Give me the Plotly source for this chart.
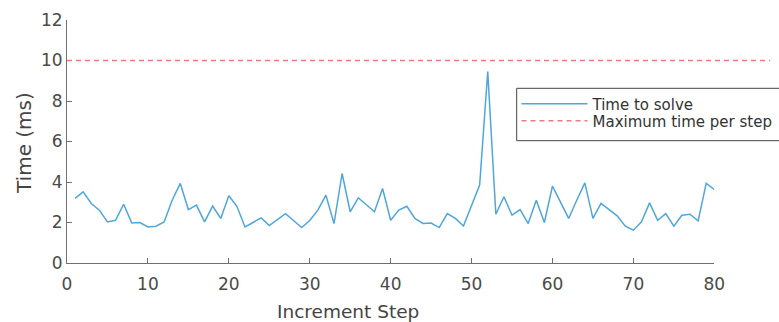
import plotly.graph_objects as go

# ---- data ----
steps = list(range(1, 81))
time_to_solve = [
    3.19, 3.51, 2.94, 2.61, 2.03, 2.11, 2.90, 1.98, 2.00, 1.78,
    1.82, 2.03, 3.10, 3.93, 2.64, 2.86, 2.03, 2.81, 2.20, 3.32,
    2.80, 1.78, 2.00, 2.23, 1.85, 2.15, 2.44, 2.10, 1.75, 2.10,
    2.61, 3.35, 1.95, 4.42, 2.53, 3.22, 2.86, 2.53, 3.68, 2.11,
    2.61, 2.80, 2.20, 1.95, 1.97, 1.75, 2.44, 2.20, 1.83, 2.86,
    3.85, 9.46, 2.41, 3.27, 2.36, 2.64, 1.95, 3.10, 2.00, 3.80,
    2.97, 2.20, 3.10, 3.96, 2.20, 2.94, 2.64, 2.33, 1.82, 1.62,
    2.03, 2.97, 2.11, 2.44, 1.82, 2.36, 2.41, 2.08, 3.93, 3.63,
]
max_time = 10
max_line_x = [0, 86.8]
x_ticks = [0, 10, 20, 30, 40, 50, 60, 70, 80]
y_ticks = [0, 2, 4, 6, 8, 10, 12]
x_range = [0, 80]
y_range = [0, 12]

FONT = "DejaVu Sans, Liberation Sans, Arial, sans-serif"
W, H = 779, 322
ML, MR, MT, MB = 67, 5, 20, 59
pw = W - ML - MR
ph = H - MT - MB
main_right_px = 714.3
ext_right_px = 770


def px_x(p):
    return (p - ML) / pw


def px_y(p):
    return (H - MB - p) / ph


fig = go.Figure()

fig.add_trace(go.Scatter(
    x=steps, y=time_to_solve, mode="lines", name="Time to solve",
    line=dict(color="#4fa6dc", width=1.5),
    xaxis="x", yaxis="y", legend="legend",
))
fig.add_trace(go.Scatter(
    x=max_line_x, y=[max_time, max_time], mode="lines",
    name="Maximum time per step",
    line=dict(color="#f07a84", width=1.5, dash="5px,4px"),
    xaxis="x2", yaxis="y2", legend="legend2",
))

axis_common = dict(
    showline=True, linecolor="#707070", linewidth=1,
    ticks="inside", ticklen=5, tickcolor="#707070", tickwidth=1,
    showgrid=False, zeroline=False,
    tickfont=dict(family=FONT, size=17, color="#4a4a4a"),
)

leg_common = dict(
    xanchor="left", yanchor="top",
    bgcolor="rgba(0,0,0,0)", borderwidth=0,
    font=dict(family=FONT, size=15, color="#333333"),
    itemwidth=66,
)

fig.update_layout(
    width=W, height=H,
    margin=dict(l=ML, r=MR, t=MT, b=MB, autoexpand=False),
    paper_bgcolor="white", plot_bgcolor="rgba(0,0,0,0)",
    font=dict(family=FONT, color="#333333"),
    xaxis=dict(domain=[0, px_x(main_right_px)], range=x_range,
               tickvals=x_ticks, anchor="y", ticklabelstandoff=6,
               **axis_common),
    yaxis=dict(domain=[0, 1], range=y_range, tickvals=y_ticks,
               anchor="x", **axis_common),
    xaxis2=dict(domain=[0, px_x(ext_right_px)],
                range=[0, max_line_x[1]], visible=False, anchor="y2"),
    yaxis2=dict(domain=[0, 1], range=y_range, visible=False, anchor="x2"),
    showlegend=True,
    legend=dict(x=px_x(516.5), y=px_y(87.5), **leg_common),
    legend2=dict(x=px_x(516.5), y=px_y(104.5), **leg_common),
    shapes=[
        dict(type="rect", xref="paper", yref="paper",
             x0=px_x(516.7), x1=px_x(795), y0=px_y(140.7), y1=px_y(88.3),
             line=dict(color="#444444", width=1), fillcolor="white",
             layer="below"),
    ],
    annotations=[
        dict(text="Increment Step", xref="paper", yref="paper",
             x=px_x(348), y=px_y(311), xanchor="center", yanchor="middle",
             showarrow=False,
             font=dict(family=FONT, size=18.5, color="#444444")),
        dict(text="Time (ms)", xref="paper", yref="paper",
             x=px_x(24), y=px_y(143), textangle=-90,
             xanchor="center", yanchor="middle", showarrow=False,
             font=dict(family=FONT, size=20, color="#444444")),
    ],
)

fig.write_html("out.html")
